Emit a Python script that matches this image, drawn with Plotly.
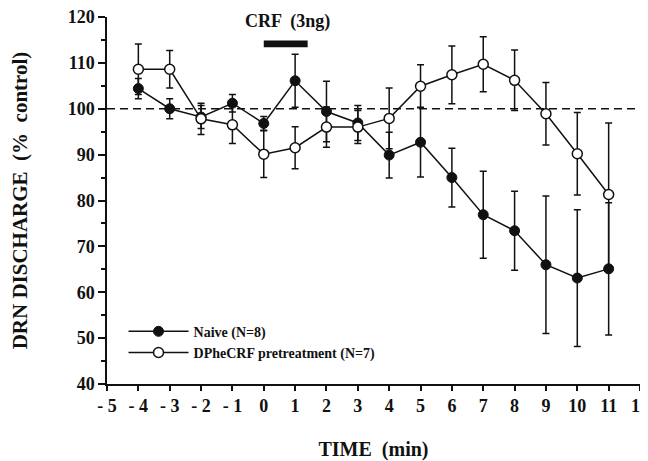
import plotly.graph_objects as go

# ---- data ----
time_min = [-4, -3, -2, -1, 0, 1, 2, 3, 4, 5, 6, 7, 8, 9, 10, 11]

naive_mean = [104.4, 100.0, 98.2, 101.2, 96.8, 106.1, 99.4, 96.9, 89.9, 92.7, 85.0, 76.9, 73.4, 66.0, 63.1, 65.1]
naive_sem = [2.2, 2.2, 2.5, 1.9, 1.5, 5.8, 6.6, 3.8, 5.0, 7.6, 6.4, 9.5, 8.6, 15.0, 14.9, 14.4]

dphe_mean = [108.6, 108.6, 97.8, 96.5, 90.1, 91.5, 96.0, 96.0, 97.9, 104.9, 107.4, 109.7, 106.2, 98.9, 90.2, 81.3]
dphe_sem = [5.5, 4.1, 3.4, 4.1, 5.1, 4.6, 4.4, 3.6, 6.6, 4.7, 6.3, 6.0, 6.6, 6.8, 9.0, 15.6]

series_names = ["Naive (N=8)", "DPheCRF pretreatment (N=7)"]
x_ticks = list(range(-5, 13))
x_tick_labels = ["- 5", "- 4", "- 3", "- 2", "- 1"] + [str(v) for v in range(0, 13)]
y_ticks = list(range(40, 121, 10))
control_level = 100
crf_period = [0, 1.4]
crf_label = "CRF  (3ng)"

FONT = "Liberation Serif"
INK = "#111111"

fig = go.Figure()

fig.add_trace(go.Scatter(
    x=time_min, y=naive_mean, name=series_names[0], mode="lines+markers",
    line=dict(color=INK, width=1.5),
    marker=dict(symbol="circle", size=10, color=INK, line=dict(color=INK, width=1)),
    error_y=dict(type="data", array=naive_sem, visible=True, color=INK, thickness=1.5, width=3.5),
))
fig.add_trace(go.Scatter(
    x=time_min, y=dphe_mean, name=series_names[1], mode="lines+markers",
    line=dict(color=INK, width=1.5),
    marker=dict(symbol="circle", size=10, color="white", line=dict(color=INK, width=1.5)),
    error_y=dict(type="data", array=dphe_sem, visible=True, color=INK, thickness=1.5, width=3.5),
))

# control reference line
fig.add_shape(type="line", xref="x", yref="y", x0=-5, x1=12, y0=control_level, y1=control_level,
              line=dict(color=INK, width=1.5, dash="8px,5px"), layer="below")
# CRF infusion bar
fig.add_shape(type="rect", xref="x", yref="y", x0=crf_period[0], x1=crf_period[1],
              y0=113.4, y1=114.9, fillcolor=INK, line=dict(width=0))
fig.add_annotation(x=(crf_period[0] + crf_period[1]) / 2 + 0.05, y=119.0, xref="x", yref="y",
                   text="<b>" + crf_label + "</b>", showarrow=False,
                   font=dict(family=FONT, size=18, color=INK))

# The page body has an 8px margin, so the figure is 8px smaller than the window.
fig.update_layout(
    width=640, height=453,
    margin=dict(l=99, r=8, t=9, b=77),
    paper_bgcolor="white", plot_bgcolor="white",
    font=dict(family=FONT, color=INK),
    showlegend=True,
    legend=dict(x=0.031, y=0.186, xanchor="left", yanchor="top",
                bgcolor="rgba(0,0,0,0)", itemwidth=60, tracegroupgap=0,
                font=dict(family=FONT, size=14, color=INK, weight="bold")),
    xaxis=dict(range=[-5, 12], tickmode="array", tickvals=x_ticks, ticktext=x_tick_labels,
               automargin=False, ticklabeloverflow="allow",
               showgrid=False, zeroline=False, showline=True, linecolor=INK, linewidth=1.5,
               ticks="outside", ticklen=5, tickwidth=1.5, tickcolor=INK,
               tickfont=dict(family=FONT, size=18, color=INK, weight="bold"),
               title=dict(text="TIME  (min)", standoff=27,
                          font=dict(family=FONT, size=20, color=INK, weight="bold"))),
    yaxis=dict(range=[40, 120], tickmode="array", tickvals=y_ticks,
               automargin=False, ticklabeloverflow="allow",
               showgrid=False, zeroline=False, showline=True, linecolor=INK, linewidth=1.5,
               ticks="outside", ticklen=7, tickwidth=1.5, tickcolor=INK,
               minor=dict(dtick=5, ticks="outside", ticklen=4, tickwidth=1.5, tickcolor=INK, showgrid=False),
               tickfont=dict(family=FONT, size=18, color=INK, weight="bold"),
               title=dict(text="DRN DISCHARGE  (%  control)", standoff=41,
                          font=dict(family=FONT, size=21, color=INK, weight="bold"))),
)

fig.write_html("out.html")
